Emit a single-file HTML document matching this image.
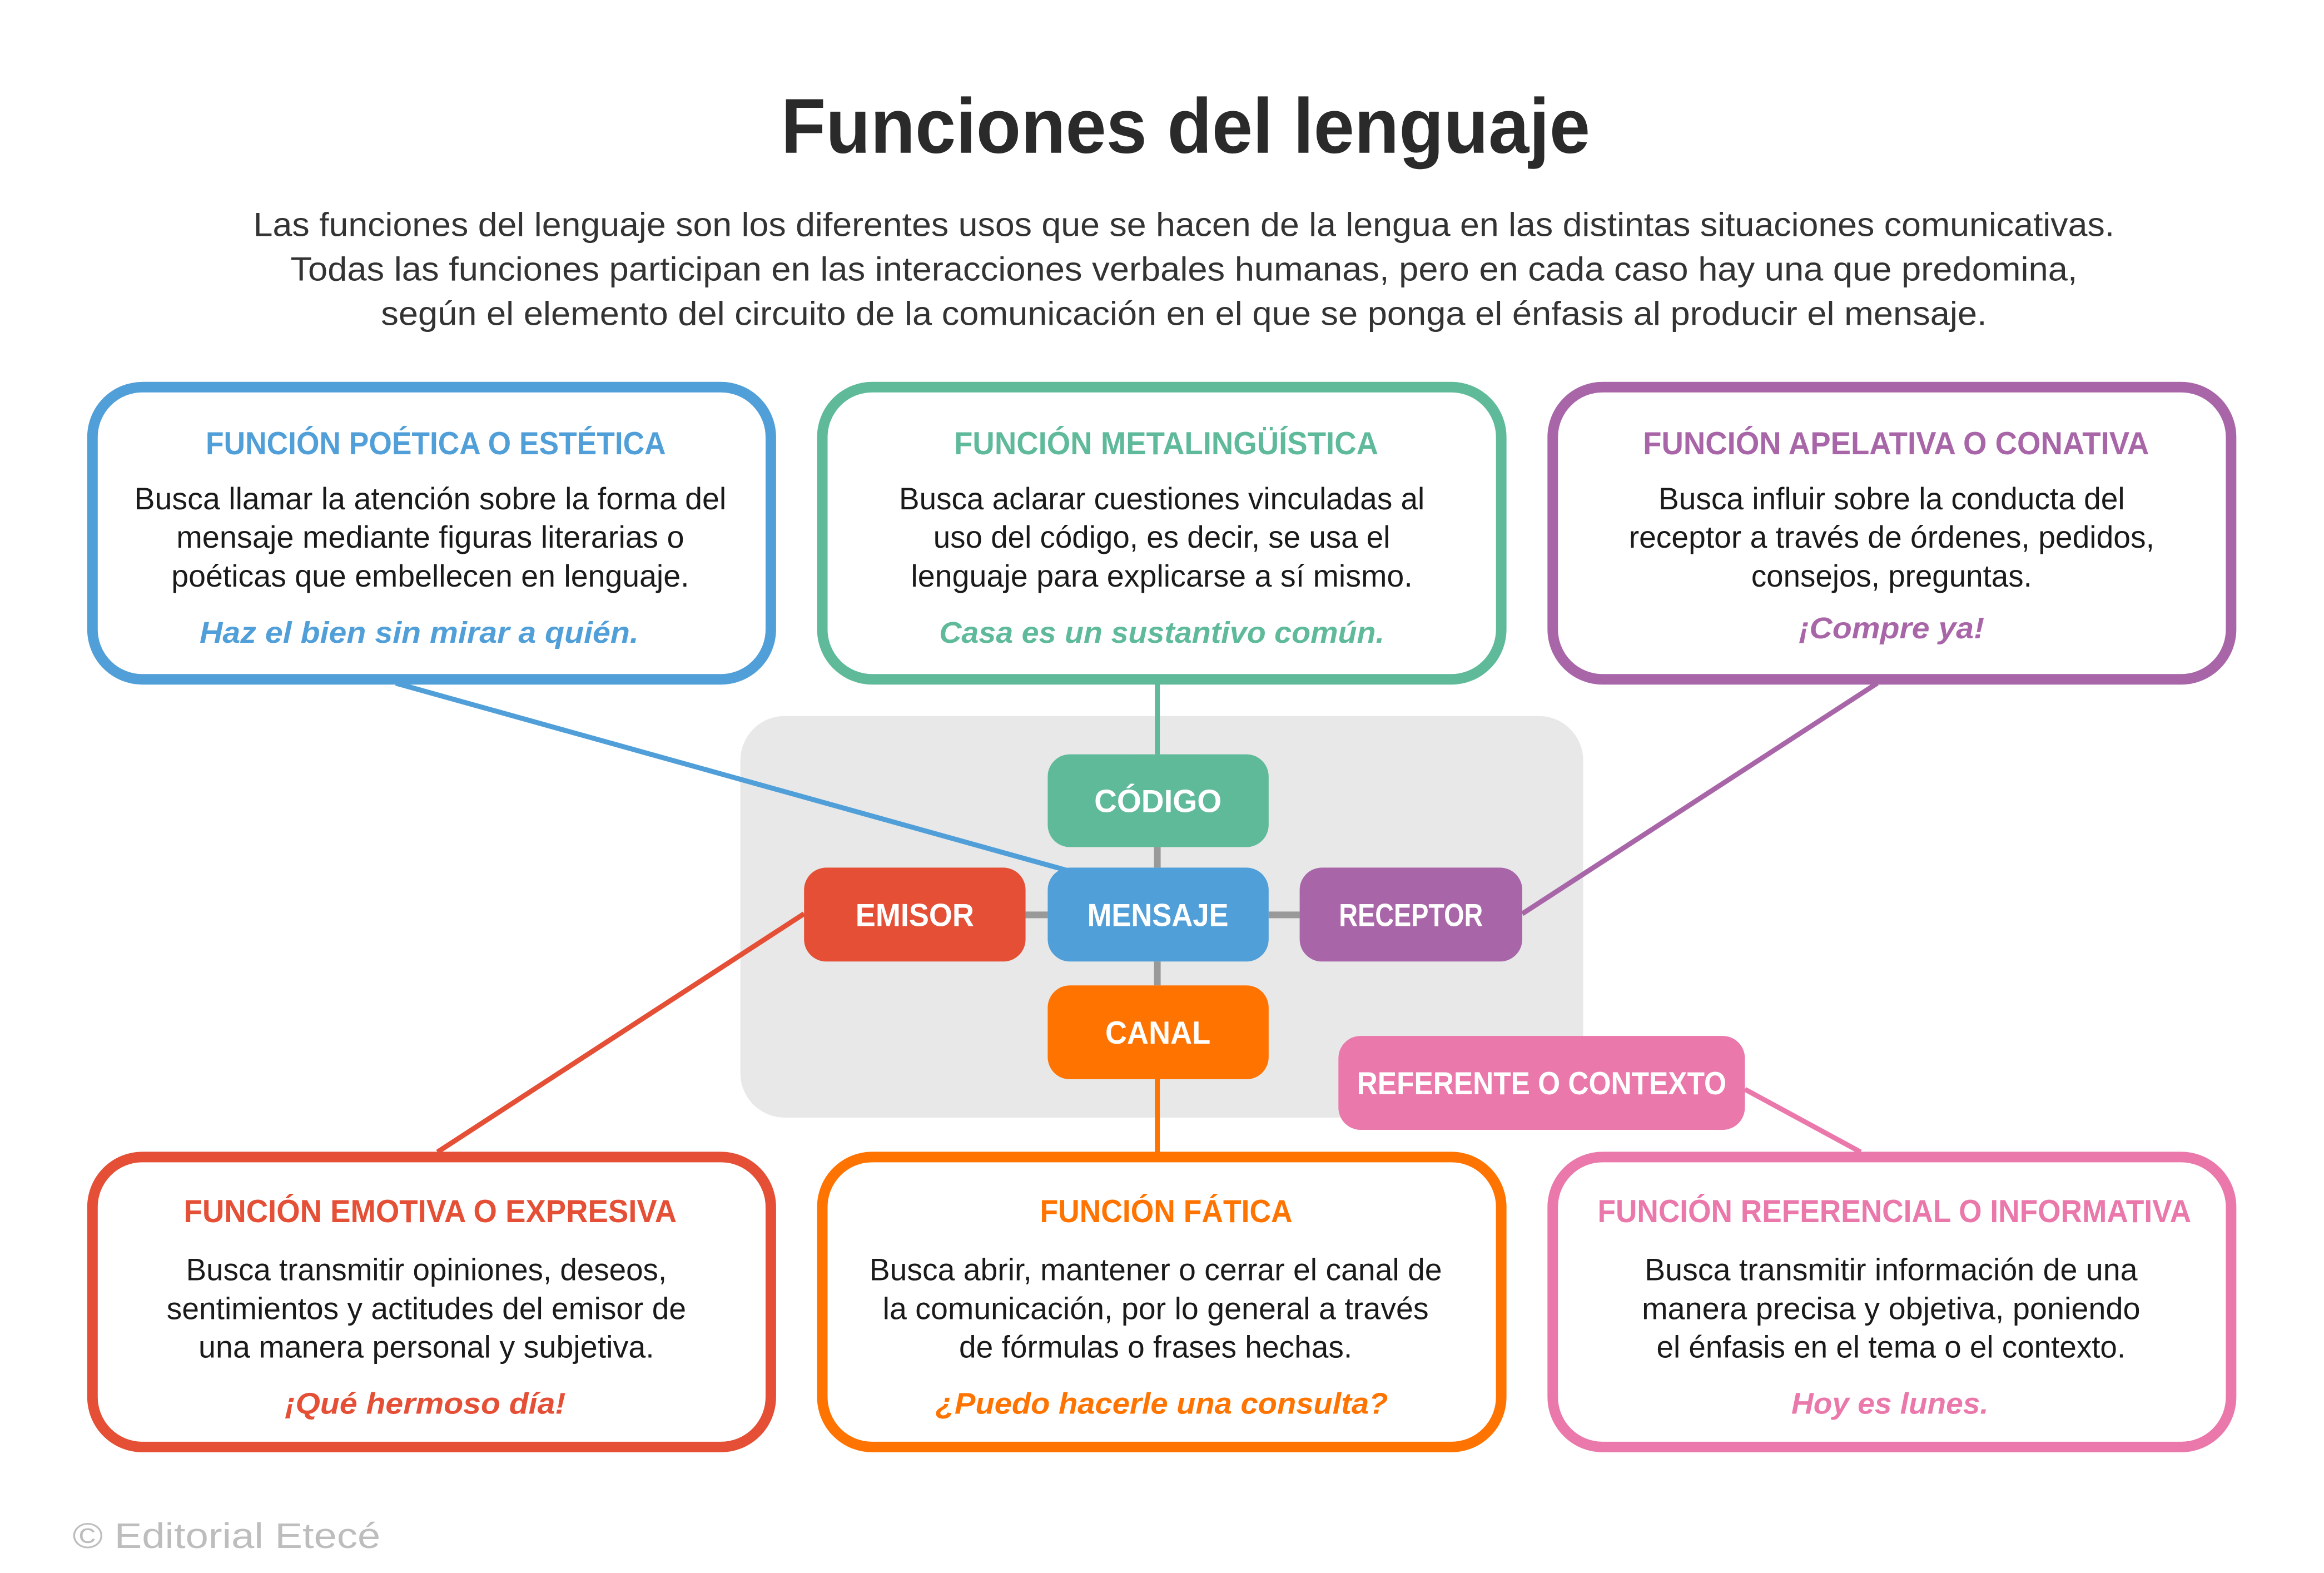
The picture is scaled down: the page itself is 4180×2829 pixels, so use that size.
<!DOCTYPE html>
<html><head><meta charset="utf-8"><style>html,body{margin:0;padding:0;background:#fff}svg{display:block}text{font-family:"Liberation Sans",sans-serif}</style></head><body>
<svg width="4180" height="2829" viewBox="0 0 4180 2829" xmlns="http://www.w3.org/2000/svg">
<g transform="translate(-3,-3) scale(0.996,0.999)">
<rect x="1340" y="1292" width="1522" height="723" rx="80" fill="#e8e8e8"/>
<g stroke-width="9" fill="none">
<line x1="718" y1="1233" x2="1930" y2="1570" stroke="#519fd8"/>
<line x1="2093" y1="1233" x2="2093" y2="1361" stroke="#5fba9a"/>
<line x1="3393" y1="1233" x2="2752" y2="1648" stroke="#a866a8"/>
<line x1="1455" y1="1648" x2="793" y2="2077" stroke="#e44f36"/>
<line x1="2093" y1="1946" x2="2093" y2="2077" stroke="#ff7300"/>
<line x1="3154" y1="1964" x2="3363" y2="2077" stroke="#ea78ab"/>
</g>
<g stroke="#999" stroke-width="12">
<line x1="2093" y1="1528" x2="2093" y2="1565"/>
<line x1="2093" y1="1734" x2="2093" y2="1777"/>
<line x1="1855" y1="1650" x2="1895" y2="1650"/>
<line x1="2294" y1="1650" x2="2350" y2="1650"/>
</g>
<g fill="none" stroke-width="19">
<rect x="170" y="700" width="1225" height="526" rx="90" stroke="#519fd8"/>
<rect x="1488" y="700" width="1226" height="526" rx="90" stroke="#5fba9a"/>
<rect x="2807" y="700" width="1225" height="526" rx="90" stroke="#a866a8"/>
<rect x="170" y="2086" width="1225" height="522" rx="90" stroke="#e44f36"/>
<rect x="1488" y="2086" width="1226" height="522" rx="90" stroke="#ff7300"/>
<rect x="2807" y="2086" width="1225" height="522" rx="90" stroke="#ea78ab"/>
</g>
<rect x="1895" y="1361" width="399" height="167" rx="40" fill="#5fba9a"/>
<rect x="1895" y="1565" width="399" height="169" rx="40" fill="#519fd8"/>
<rect x="1895" y="1777" width="399" height="169" rx="40" fill="#ff7300"/>
<rect x="1455" y="1565" width="400" height="169" rx="40" fill="#e44f36"/>
<rect x="2350" y="1565" width="402" height="169" rx="40" fill="#a866a8"/>
<rect x="2420" y="1868" width="734" height="169" rx="40" fill="#ea78ab"/>
<g fill="#fff" font-weight="bold" font-size="58" text-anchor="middle">
<text x="2094" y="1465" textLength="230" lengthAdjust="spacingAndGlyphs">CÓDIGO</text>
<text x="2094" y="1670" textLength="255" lengthAdjust="spacingAndGlyphs">MENSAJE</text>
<text x="2094" y="1882" textLength="190" lengthAdjust="spacingAndGlyphs">CANAL</text>
<text x="1655" y="1670" textLength="214" lengthAdjust="spacingAndGlyphs">EMISOR</text>
<text x="2551" y="1670" textLength="260" lengthAdjust="spacingAndGlyphs">RECEPTOR</text>
<text x="2787" y="1973" textLength="667" lengthAdjust="spacingAndGlyphs">REFERENTE O CONTEXTO</text>
</g>
<g text-anchor="middle">
<text x="2144" y="278" font-size="140" font-weight="bold" fill="#2a2a2a" textLength="1461" lengthAdjust="spacingAndGlyphs">Funciones del lenguaje</text>
<g font-size="60" fill="#333">
<text x="2141" y="428" textLength="3361" lengthAdjust="spacingAndGlyphs">Las funciones del lenguaje son los diferentes usos que se hacen de la lengua en las distintas situaciones comunicativas.</text>
<text x="2141" y="508" textLength="3227" lengthAdjust="spacingAndGlyphs">Todas las funciones participan en las interacciones verbales humanas, pero en cada caso hay una que predomina,</text>
<text x="2141" y="588" textLength="2900" lengthAdjust="spacingAndGlyphs">según el elemento del circuito de la comunicación en el que se ponga el énfasis al producir el mensaje.</text>
</g>
<g font-size="58" font-weight="bold">
<text x="790" y="821" fill="#519fd8" textLength="831" lengthAdjust="spacingAndGlyphs">FUNCIÓN POÉTICA O ESTÉTICA</text>
<text x="2109" y="821" fill="#5fba9a" textLength="766" lengthAdjust="spacingAndGlyphs">FUNCIÓN METALINGÜÍSTICA</text>
<text x="3427" y="821" fill="#a866a8" textLength="914" lengthAdjust="spacingAndGlyphs">FUNCIÓN APELATIVA O CONATIVA</text>
<text x="780" y="2203" fill="#e44f36" textLength="890" lengthAdjust="spacingAndGlyphs">FUNCIÓN EMOTIVA O EXPRESIVA</text>
<text x="2109" y="2203" fill="#ff7300" textLength="456" lengthAdjust="spacingAndGlyphs">FUNCIÓN FÁTICA</text>
<text x="3424" y="2203" fill="#ea78ab" textLength="1072" lengthAdjust="spacingAndGlyphs">FUNCIÓN REFERENCIAL O INFORMATIVA</text>
</g>
<g font-size="56" fill="#1a1a1a">
<text x="780" y="920" textLength="1069" lengthAdjust="spacingAndGlyphs">Busca llamar la atención sobre la forma del</text>
<text x="780" y="989" textLength="917" lengthAdjust="spacingAndGlyphs">mensaje mediante figuras literarias o</text>
<text x="780" y="1059" textLength="935" lengthAdjust="spacingAndGlyphs">poéticas que embellecen en lenguaje.</text>
<text x="2101" y="920" textLength="949" lengthAdjust="spacingAndGlyphs">Busca aclarar cuestiones vinculadas al</text>
<text x="2101" y="989" textLength="825" lengthAdjust="spacingAndGlyphs">uso del código, es decir, se usa el</text>
<text x="2101" y="1059" textLength="906" lengthAdjust="spacingAndGlyphs">lenguaje para explicarse a sí mismo.</text>
<text x="3419" y="920" textLength="842" lengthAdjust="spacingAndGlyphs">Busca influir sobre la conducta del</text>
<text x="3419" y="989" textLength="949" lengthAdjust="spacingAndGlyphs">receptor a través de órdenes, pedidos,</text>
<text x="3419" y="1059" textLength="507" lengthAdjust="spacingAndGlyphs">consejos, preguntas.</text>
<text x="773" y="2308" textLength="868" lengthAdjust="spacingAndGlyphs">Busca transmitir opiniones, deseos,</text>
<text x="773" y="2378" textLength="938" lengthAdjust="spacingAndGlyphs">sentimientos y actitudes del emisor de</text>
<text x="773" y="2447" textLength="823" lengthAdjust="spacingAndGlyphs">una manera personal y subjetiva.</text>
<text x="2090" y="2308" textLength="1034" lengthAdjust="spacingAndGlyphs">Busca abrir, mantener o cerrar el canal de</text>
<text x="2090" y="2378" textLength="986" lengthAdjust="spacingAndGlyphs">la comunicación, por lo general a través</text>
<text x="2090" y="2447" textLength="710" lengthAdjust="spacingAndGlyphs">de fórmulas o frases hechas.</text>
<text x="3418" y="2308" textLength="890" lengthAdjust="spacingAndGlyphs">Busca transmitir información de una</text>
<text x="3418" y="2378" textLength="900" lengthAdjust="spacingAndGlyphs">manera precisa y objetiva, poniendo</text>
<text x="3418" y="2447" textLength="847" lengthAdjust="spacingAndGlyphs">el énfasis en el tema o el contexto.</text>
</g>
<g font-size="54" font-weight="bold" font-style="italic">
<text x="760" y="1160" fill="#519fd8" textLength="793" lengthAdjust="spacingAndGlyphs">Haz el bien sin mirar a quién.</text>
<text x="2101" y="1160" fill="#5fba9a" textLength="804" lengthAdjust="spacingAndGlyphs">Casa es un sustantivo común.</text>
<text x="3419" y="1152" fill="#a866a8" textLength="335" lengthAdjust="spacingAndGlyphs">¡Compre ya!</text>
<text x="771" y="2548" fill="#e44f36" textLength="507" lengthAdjust="spacingAndGlyphs">¡Qué hermoso día!</text>
<text x="2101" y="2548" fill="#ff7300" textLength="817" lengthAdjust="spacingAndGlyphs">¿Puedo hacerle una consulta?</text>
<text x="3416" y="2548" fill="#ea78ab" textLength="356" lengthAdjust="spacingAndGlyphs">Hoy es lunes.</text>
</g>
</g>
<text x="134" y="2790" font-size="64" fill="#bdbdbd" textLength="556" lengthAdjust="spacingAndGlyphs">© Editorial Etecé</text>
</g>
</svg>
</body></html>
